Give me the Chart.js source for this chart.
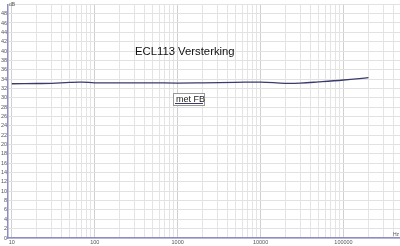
<!DOCTYPE html>
<html>
<head>
<meta charset="utf-8">
<script src="https://cdn.jsdelivr.net/npm/chart.js@4"></script>
<style>
  html, body { margin: 0; padding: 0; background: #fff; }
  #wrap { width: 400px; height: 246px; position: relative; }
</style>
</head>
<body>
<div id="wrap"><canvas id="chart"></canvas></div>
<script>
// frequency response
const freqs = [10, 20, 30, 50, 70, 100, 200, 500, 1000, 2000, 5000, 10000, 20000, 30000, 50000, 100000, 200000];
const gainDb = [33.0, 33.05, 33.1, 33.3, 33.35, 33.2, 33.2, 33.2, 33.15, 33.2, 33.3, 33.35, 33.1, 33.15, 33.4, 33.8, 34.3];
const decades = [10, 100, 1000, 10000, 100000];
const chartTitle = 'ECL113 Versterking';
const seriesLabel = 'met FB';

const labelPlugin = {
    id: 'labels',
    afterDraw(chart) {
        const ctx = chart.ctx;
        ctx.save();
        ctx.fillStyle = '#111';
        ctx.font = '11.3px "Liberation Sans", Arial, sans-serif';
        ctx.textAlign = 'left';
        ctx.textBaseline = 'alphabetic';
        ctx.fillText(chartTitle, 135, 55);

        // legend box
        ctx.fillStyle = '#fff';
        ctx.fillRect(173, 93, 31, 12);
        ctx.strokeStyle = '#999';
        ctx.lineWidth = 1;
        ctx.strokeRect(173.5, 93.5, 31, 12);
        ctx.fillStyle = '#222';
        ctx.font = '9px "Liberation Sans", Arial, sans-serif';
        ctx.fillText(seriesLabel, 176, 102);
        ctx.strokeStyle = '#3a3a6e';
        ctx.beginPath();
        ctx.moveTo(175, 103.5);
        ctx.lineTo(203, 103.5);
        ctx.stroke();

        // units
        ctx.fillStyle = '#555';
        ctx.font = '5px "Liberation Sans", Arial, sans-serif';
        ctx.fillText('dB', 9, 6);
        ctx.fillText('Hz', 393, 236);
        ctx.restore();
    }
};

new Chart(document.getElementById('chart'), {
    type: 'line',
    data: {
        datasets: [{
            label: seriesLabel,
            data: freqs.map((f, i) => ({ x: f, y: gainDb[i] })),
            borderColor: '#3a3a6e',
            borderWidth: 1.3,
            pointRadius: 0,
            tension: 0.4,
            fill: false
        }]
    },
    options: {
        responsive: true,
        maintainAspectRatio: false,
        animation: false,
        layout: { padding: 0 },
        plugins: {
            legend: { display: false },
            tooltip: { enabled: false }
        },
        scales: {
            x: {
                type: 'logarithmic',
                min: 9,
                max: 480000,
                afterBuildTicks(scale) {
                    const ticks = [];
                    decades.forEach(d => {
                        for (let m = 1; m <= 9; m++) {
                            const v = d * m;
                            if (v >= scale.min && v <= scale.max) ticks.push({ value: v });
                        }
                    });
                    scale.ticks = ticks;
                },
                afterFit(scale) { scale.height = 8; },
                grid: {
                    color: ctx => decades.includes(ctx.tick && ctx.tick.value) ? '#d0d0d0' : '#e4e4e4',
                    lineWidth: 1,
                    drawTicks: false
                },
                border: { color: '#8c8cc8', width: 1.5 },
                ticks: {
                    autoSkip: false,
                    maxRotation: 0,
                    padding: 1,
                    color: '#555',
                    font: { size: 5.5, family: 'Liberation Sans' },
                    callback: v => decades.includes(v) ? String(v) : ''
                }
            },
            y: {
                min: 0,
                max: 50,
                afterFit(scale) { scale.width = 8; },
                grid: { color: '#e2e2e2', lineWidth: 1, drawTicks: false },
                border: { color: '#8c8cc8', width: 1.5 },
                ticks: {
                    stepSize: 2,
                    autoSkip: false,
                    padding: 1,
                    color: '#555',
                    font: { size: 5.5, family: 'Liberation Sans' },
                    callback: v => v >= 50 ? '' : v
                }
            }
        }
    },
    plugins: [labelPlugin]
});
</script>
</body>
</html>
